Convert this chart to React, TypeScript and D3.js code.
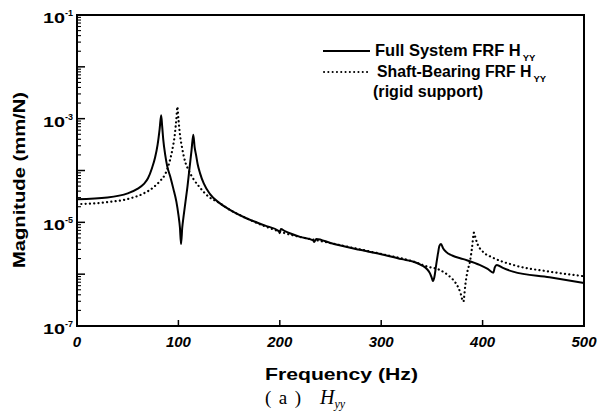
import React from 'react';
import * as d3 from 'd3';

// Full System FRF H_yy (solid)
const fullFreq = [0, 30, 50, 60, 66, 70, 74, 77, 79.5, 81.5, 83, 84, 85.1, 87, 89, 92, 95, 98, 100, 101.5, 102.6, 103.8, 105, 107, 109, 111, 113, 114.7, 116, 117.4, 119, 121.3, 125, 131, 140, 150, 167, 185, 199, 200, 201, 205, 220, 233, 234, 236, 250, 279, 299, 320, 332, 340, 345, 348, 350, 351, 352.5, 354, 356, 357.5, 359, 361, 364, 370, 381, 397, 405, 410.6, 412, 414, 420, 430, 466, 500];
const fullMag = [2.79e-5, 3.02e-5, 3.63e-5, 4.47e-5, 5.5e-5, 7.08e-5, 1.12e-4, 1.78e-4, 3.16e-4, 6.31e-4, 1.17e-3, 7.08e-4, 3.89e-4, 2.0e-4, 1.2e-4, 7.59e-5, 4.47e-5, 2.51e-5, 1.41e-5, 7.94e-6, 3.8e-6, 7.94e-6, 1.26e-5, 2.51e-5, 5.01e-5, 1.12e-4, 2.51e-4, 4.9e-4, 2.82e-4, 2.0e-4, 1.32e-4, 8.91e-5, 5.62e-5, 3.55e-5, 2.4e-5, 1.78e-5, 1.2e-5, 8.71e-6, 6.76e-6, 6.17e-6, 7.41e-6, 6.76e-6, 5.25e-6, 4.47e-6, 4.17e-6, 4.79e-6, 3.98e-6, 2.95e-6, 2.45e-6, 1.95e-6, 1.74e-6, 1.48e-6, 1.26e-6, 1.05e-6, 8.32e-7, 7.41e-7, 8.91e-7, 1.41e-6, 2.51e-6, 3.55e-6, 3.8e-6, 3.16e-6, 2.69e-6, 2.29e-6, 1.95e-6, 1.51e-6, 1.26e-6, 1.07e-6, 1.35e-6, 1.51e-6, 1.32e-6, 1.12e-6, 8.71e-7, 6.76e-7];

// Shaft-Bearing FRF H_yy, rigid support (dotted)
const shaftFreq = [0, 30, 50, 65, 75, 82, 87, 91, 94, 96.5, 98, 99, 100, 101.5, 104, 107, 110, 115, 120, 129.5, 140, 150, 167, 200, 250, 300, 332, 345, 358, 366, 371, 375, 378, 381, 383, 385, 387.6, 389.5, 391.5, 393, 395, 400, 410, 430, 466, 500];
const shaftMag = [2.24e-5, 2.45e-5, 2.82e-5, 3.55e-5, 4.68e-5, 6.31e-5, 8.51e-5, 1.41e-4, 2.51e-4, 5.01e-4, 1.0e-3, 1.7e-3, 1.0e-3, 5.01e-4, 2.51e-4, 1.41e-4, 1.02e-4, 6.76e-5, 5.01e-5, 3.16e-5, 2.4e-5, 1.78e-5, 1.2e-5, 6.61e-6, 3.98e-6, 2.45e-6, 1.74e-6, 1.41e-6, 1.2e-6, 9.55e-7, 7.76e-7, 6.03e-7, 4.47e-7, 2.95e-7, 6.31e-7, 1.12e-6, 1.78e-6, 3.16e-6, 6.31e-6, 5.01e-6, 3.8e-6, 2.75e-6, 2.09e-6, 1.51e-6, 1.12e-6, 9.12e-7];

const xTicks = [0, 100, 200, 300, 400, 500];
const yDecades = [-7, -6, -5, -4, -3, -2, -1];
const yLabelExps = [-1, -3, -5, -7];
const legendLabels = ['Full System FRF H', 'Shaft-Bearing FRF H'];
const legendSub = 'YY';
const legendNote = '(rigid support)';
const xTitle = 'Frequency  (Hz)';
const yTitle = 'Magnitude  (mm/N)';

export default function App() {
  const W = 597, H = 417;
  const x = d3.scaleLinear().domain([0, 500]).range([77, 584]);
  const y = d3.scaleLog().domain([1e-7, 1e-1]).range([326, 15]);
  const line = d3.line<[number, number]>().x(d => x(d[0])).y(d => y(d[1])).curve(d3.curveMonotoneX);
  const fullPts = fullFreq.map((f, i) => [f, fullMag[i]] as [number, number]);
  const shaftPts = shaftFreq.map((f, i) => [f, shaftMag[i]] as [number, number]);
  const majorTicks = yDecades.map(e => Math.pow(10, e));
  const minorTicks: number[] = [];
  yDecades.slice(0, -1).forEach(e => {
    for (let m = 2; m <= 9; m++) minorTicks.push(m * Math.pow(10, e));
  });
  const sans = 'Liberation Sans, Arial, sans-serif';
  const serif = 'Liberation Serif, Times New Roman, serif';
  const [x0, x1] = x.range();
  const [yb, yt] = y.range();

  return (
    <svg width={W} height={H} style={{ position: 'absolute', left: 0, top: 0, background: '#fff' }}>
      <rect x={0} y={0} width={W} height={H} fill="#fff" />
      {/* y ticks */}
      {minorTicks.map((t, i) => (
        <line key={'ym' + i} x1={x0} x2={x0 + 4} y1={y(t)} y2={y(t)} stroke="#000" strokeWidth={1.1} />
      ))}
      {majorTicks.map((t, i) => (
        <line key={'yM' + i} x1={x0} x2={x0 + 8} y1={y(t)} y2={y(t)} stroke="#000" strokeWidth={1.5} />
      ))}
      {/* x ticks */}
      {xTicks.slice(1, -1).map(t => (
        <line key={'xt' + t} x1={x(t)} x2={x(t)} y1={yb} y2={yb - 6} stroke="#000" strokeWidth={1.5} />
      ))}
      {/* curves */}
      <path d={line(shaftPts) || ''} fill="none" stroke="#000" strokeWidth={2.2} strokeDasharray="0.1 4.2" strokeLinecap="round" />
      <path d={line(fullPts) || ''} fill="none" stroke="#000" strokeWidth={2} strokeLinejoin="round" />
      {/* frame */}
      <rect x={x0} y={yt} width={x1 - x0} height={yb - yt} fill="none" stroke="#000" strokeWidth={2} />
      {/* y tick labels */}
      {yLabelExps.map(e => (
        <text key={'yl' + e} x={65} y={y(Math.pow(10, e)) + 8} textAnchor="end" fontFamily={sans} fontWeight="bold" fontSize={15} fill="#000" textLength={22} lengthAdjust="spacingAndGlyphs">
          10
        </text>
      ))}
      {yLabelExps.map(e => (
        <text key={'ye' + e} x={65} y={y(Math.pow(10, e)) + 1} fontFamily={sans} fontWeight="bold" fontSize={9} fill="#000">
          {String(e)}
        </text>
      ))}
      {/* x tick labels */}
      {xTicks.map(t => (
        <text key={'xl' + t} x={x(t)} y={347} textAnchor="middle" fontFamily={sans} fontWeight="bold" fontStyle="italic" fontSize={15} fill="#000">
          {t}
        </text>
      ))}
      {/* axis titles */}
      <text x={265} y={380} fontFamily={sans} fontWeight="bold" fontSize={16.5} fill="#000" textLength={153} lengthAdjust="spacingAndGlyphs">
        {xTitle}
      </text>
      <text transform="translate(25,268) rotate(-90)" fontFamily={sans} fontWeight="bold" fontSize={17} fill="#000" textLength={176} lengthAdjust="spacingAndGlyphs">
        {yTitle}
      </text>
      {/* legend */}
      <line x1={323} x2={370} y1={51} y2={51} stroke="#000" strokeWidth={2} />
      <line x1={324} x2={370} y1={72} y2={72} stroke="#000" strokeWidth={2} strokeDasharray="0.1 4.2" strokeLinecap="round" />
      <text x={375} y={56} fontFamily={sans} fontWeight="bold" fontSize={16.5} fill="#000">
        {legendLabels[0]}
        <tspan fontSize={9.5} dx={2} dy={5}>{legendSub}</tspan>
      </text>
      <text x={377} y={77} fontFamily={sans} fontWeight="bold" fontSize={15.8} fill="#000">
        {legendLabels[1]}
        <tspan fontSize={9.5} dx={2} dy={5}>{legendSub}</tspan>
      </text>
      <text x={373} y={97} fontFamily={sans} fontWeight="bold" fontSize={16.5} fill="#000" textLength={110} lengthAdjust="spacingAndGlyphs">
        {legendNote}
      </text>
      {/* caption */}
      <text x={265} y={404} fontFamily={serif} fontSize={19} fill="#000" textLength={36} lengthAdjust="spacing">
        (a)
      </text>
      <text x={320} y={404} fontFamily={serif} fontStyle="italic" fontSize={20} fill="#000">
        H
        <tspan fontSize={12} dy={4}>yy</tspan>
      </text>
    </svg>
  );
}
